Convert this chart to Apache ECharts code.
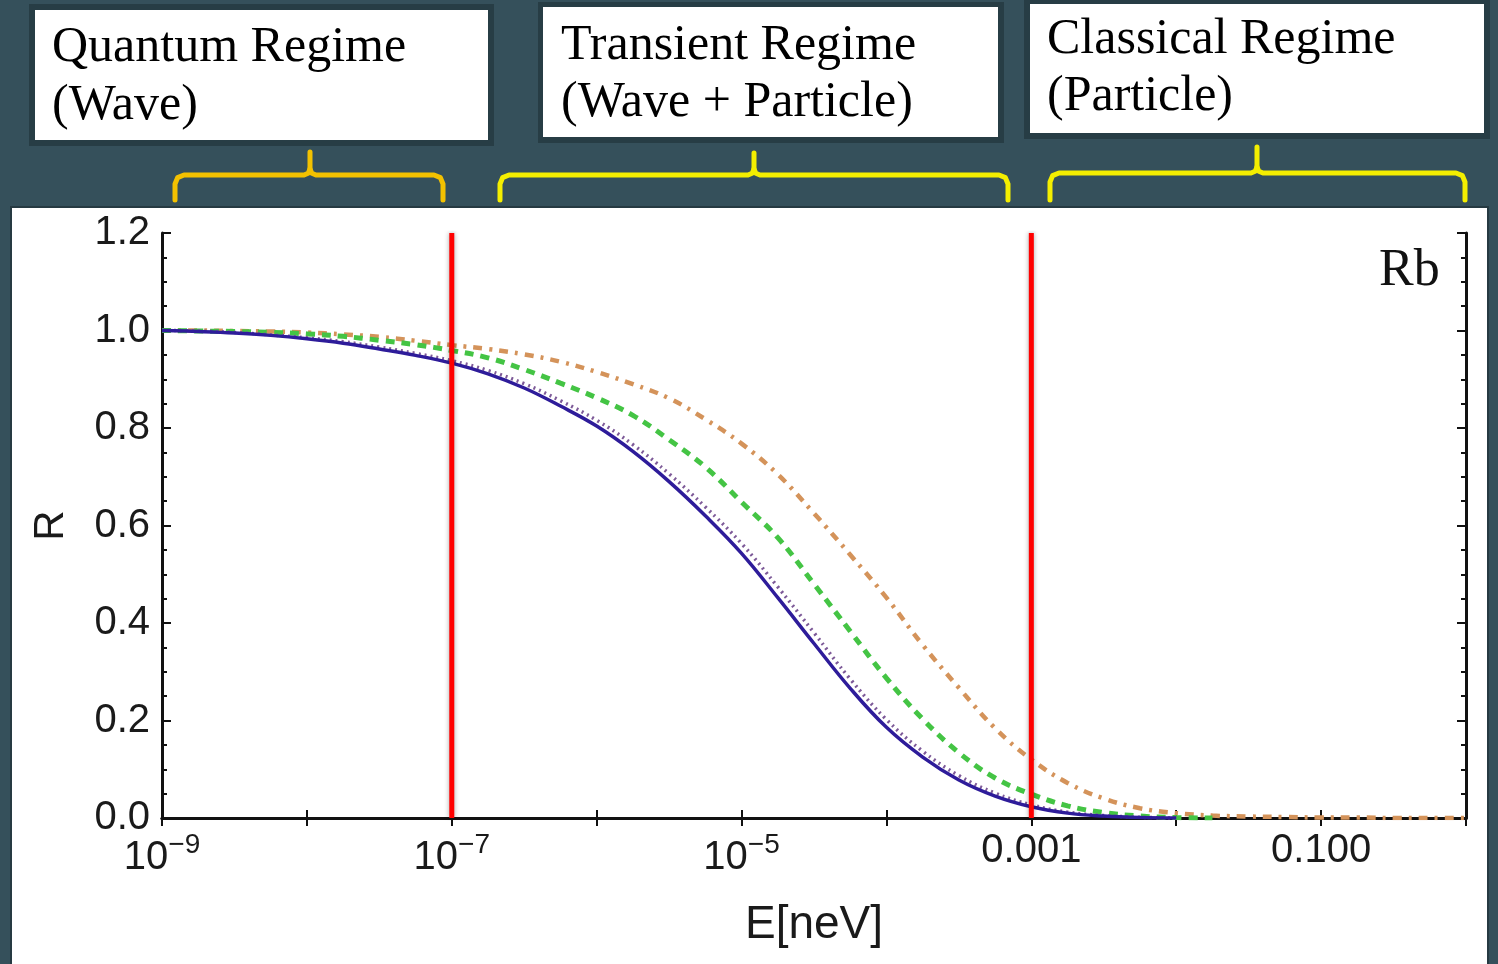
<!DOCTYPE html>
<html lang="en">

<head>
    <meta charset="UTF-8">
    <title>Rb reflection regimes</title>
    <style>
        html, body { margin: 0; padding: 0; background: #35505b; }
        #main { width: 1498px; height: 964px; }
    </style>
</head>

<body>
    <script src="https://cdn.jsdelivr.net/npm/echarts@6/dist/echarts.min.js"></script>
    <div id="main"></div>
    <script>
        // energy samples, as log10(E / neV)
        var logE = [-9, -8.75, -8.5, -8.25, -8, -7.75, -7.5, -7.25, -7, -6.75, -6.5, -6.25,
            -6, -5.75, -5.5, -5.25, -5, -4.75, -4.5, -4.25, -4, -3.75, -3.5, -3.25,
            -3, -2.75, -2.5, -2.25, -2, -1.75, -1.5, -1.25, -1, -0.75, -0.5, -0.25, 0];

        // R
        var rSolid = [1.0, 0.998, 0.995, 0.99, 0.983, 0.974, 0.962, 0.949, 0.933, 0.911, 0.882, 0.845,
            0.804, 0.752, 0.69, 0.62, 0.543, 0.452, 0.358, 0.266, 0.186, 0.125, 0.078, 0.045,
            0.023, 0.01, 0.004, 0.001, 0, null, null, null, null, null, null, null, null];
        var rDotted = [1.0, 0.999, 0.996, 0.991, 0.985, 0.977, 0.966, 0.953, 0.938, 0.918, 0.891, 0.856,
            0.816, 0.766, 0.706, 0.638, 0.563, 0.474, 0.38, 0.285, 0.202, 0.137, 0.087, 0.051,
            0.027, 0.012, 0.005, 0.0015, 0, null, null, null, null, null, null, null, null];
        var rDashed = [1.0, 0.999, 0.998, 0.996, 0.993, 0.988, 0.98, 0.971, 0.959, 0.944, 0.92, 0.892,
            0.862, 0.826, 0.776, 0.72, 0.648, 0.575, 0.48, 0.383, 0.287, 0.203, 0.134, 0.082,
            0.049, 0.025, 0.011, 0.004, 0.001, 0, null, null, null, null, null, null, null];
        var rDashDot = [1.0, 1.0, 0.999, 0.998, 0.996, 0.992, 0.987, 0.979, 0.97, 0.962, 0.951, 0.936,
            0.915, 0.89, 0.861, 0.818, 0.768, 0.705, 0.625, 0.54, 0.452, 0.355, 0.267, 0.184,
            0.12, 0.072, 0.04, 0.02, 0.01, 0.005, 0.003, 0.002, 0.001, 0.001, 0, 0, 0];

        // regime borders (neV), drawn over the full R range
        var regimeBorders = [1e-7, 1e-3];
        var rRange = [0, 1.2];

        // x tick labels, by exponent
        var xTickExp = [-9, -7, -5, -3, -1];
        var xTickText = ['{b|10}{s|−9}', '{b|10}{s|−7}', '{b|10}{s|−5}', '0.001', '0.100'];

        var regimeTitles = [
            ['Quantum Regime', '(Wave)'],
            ['Transient Regime', '(Wave + Particle)'],
            ['Classical Regime', '(Particle)']
        ];

        function pairs(r) {
            return logE.map(function (e, i) {
                return [Math.pow(10, e), r[i]];
            });
        }

        var sans = 'Liberation Sans';
        var serif = 'Liberation Serif';
        var ink = '#1a1a1a';

        // boxes + braces on top (layout only)
        var boxes = [
            { ox: 29, oy: 4, ow: 465, oh: 142, ix: 35, iy: 10, iw: 453, ih: 130, tx: 52, ty: [48, 106] },
            { ox: 538, oy: 2, ow: 466, oh: 141, ix: 543, iy: 7, iw: 455, ih: 130, tx: 561, ty: [46, 103] },
            { ox: 1024, oy: 0, ow: 466, oh: 139, ix: 1030, iy: 4, iw: 454, ih: 129, tx: 1047, ty: [40, 97] }
        ];
        var braces = [
            { x0: 175, x1: 443, s: 310, h: 175, top: 152, color: '#f3c100' },
            { x0: 500, x1: 1008, s: 754, h: 175, top: 153, color: '#f4ee00' },
            { x0: 1050, x1: 1465, s: 1257, h: 173, top: 147, color: '#f4ee00' }
        ];

        var graphic = [{
            type: 'rect', z: -100,
            shape: { x: 11, y: 207, width: 1477, height: 762 },
            style: { fill: '#ffffff', stroke: '#263a42', lineWidth: 2 }
        }];
        boxes.forEach(function (b, i) {
            graphic.push({ type: 'rect', shape: { x: b.ox, y: b.oy, width: b.ow, height: b.oh }, style: { fill: '#273d45' } });
            graphic.push({ type: 'rect', shape: { x: b.ix, y: b.iy, width: b.iw, height: b.ih }, style: { fill: '#ffffff' } });
            regimeTitles[i].forEach(function (t, k) {
                graphic.push({
                    type: 'text', x: b.tx, y: b.ty[k],
                    style: { text: t, font: '50px "' + serif + '"', fill: '#000', verticalAlign: 'middle', align: 'left' }
                });
            });
        });
        braces.forEach(function (b) {
            var r = 9, c = r * 0.29, h = b.h, y2 = 200;
            var braceStyle = { fill: null, stroke: b.color, lineWidth: 5, lineCap: 'round', lineJoin: 'round' };
            // left half of the brace, up into the stem
            graphic.push({
                type: 'polyline',
                shape: {
                    points: [[b.x0, y2], [b.x0, h + r], [b.x0 + c, h + c], [b.x0 + r, h],
                        [b.s - 6, h], [b.s - 1.8, h - 1.8], [b.s, h - 6], [b.s, b.top]]
                },
                style: braceStyle
            });
            // right half
            graphic.push({
                type: 'polyline',
                shape: {
                    points: [[b.s, h - 6], [b.s + 1.8, h - 1.8], [b.s + 6, h],
                        [b.x1 - r, h], [b.x1 - c, h + c], [b.x1, h + r], [b.x1, y2]]
                },
                style: braceStyle
            });
        });
        graphic.push({
            type: 'text', x: 1379, y: 271,
            style: { text: 'Rb', font: '52px "' + serif + '"', fill: '#111', verticalAlign: 'middle', align: 'left' }
        });

        var frameLine = { show: true, lineStyle: { color: '#111', width: 3 } };

        var curveSeries = [
            { name: 'dash-dot', r: rDashDot, line: { color: '#d4935a', width: 4.5, type: [9, 7, 3, 7] } },
            { name: 'dashed', r: rDashed, line: { color: '#44c444', width: 5, type: [9, 7] } },
            { name: 'dotted', r: rDotted, line: { color: '#7d5a98', width: 3.5, type: [2, 4] } },
            { name: 'solid', r: rSolid, line: { color: '#2e1c9a', width: 3.5 } }
        ].map(function (c) {
            return {
                name: c.name,
                type: 'line',
                data: pairs(c.r),
                smooth: 0.4,
                showSymbol: false,
                silent: true,
                lineStyle: c.line
            };
        });

        // red regime border lines
        var borderSeries = regimeBorders.map(function (x) {
            return {
                type: 'line',
                data: rRange.map(function (r) { return [x, r]; }),
                showSymbol: false,
                silent: true,
                z: 5,
                lineStyle: {
                    color: '#ff0000', width: 5,
                    shadowColor: 'rgba(0,0,0,0.35)', shadowBlur: 5
                }
            };
        });

        var option = {
            backgroundColor: '#35505b',
            animation: false,
            graphic: graphic,
            grid: {
                left: 162,
                top: 233,
                right: 32,
                bottom: 146
            },
            xAxis: [
                {
                    type: 'log',
                    logBase: 10,
                    min: 1e-9,
                    max: 1,
                    splitNumber: 9,
                    name: 'E[neV]',
                    nameLocation: 'middle',
                    nameGap: 84,
                    nameTextStyle: { fontFamily: sans, fontSize: 46, color: ink },
                    axisLine: { show: true, onZero: false, lineStyle: { color: '#111', width: 3 } },
                    axisTick: { show: true, inside: true, length: 8, lineStyle: { color: '#111', width: 2 } },
                    splitLine: { show: false },
                    axisLabel: {
                        margin: 13,
                        fontFamily: sans,
                        fontSize: 40,
                        color: ink,
                        formatter: function (v) {
                            var e = Math.round(Math.log10(v));
                            var k = xTickExp.indexOf(e);
                            return k < 0 ? '' : xTickText[k];
                        },
                        rich: {
                            b: { fontFamily: sans, fontSize: 40, color: ink, verticalAlign: 'bottom', padding: [7, 0, 0, 0] },
                            s: { fontFamily: sans, fontSize: 28, color: ink, verticalAlign: 'top' }
                        }
                    }
                },
                {
                    type: 'log',
                    logBase: 10,
                    min: 1e-9,
                    max: 1,
                    splitNumber: 9,
                    position: 'top',
                    axisLine: frameLine,
                    axisTick: { show: true, inside: true, length: 8, lineStyle: { color: '#111', width: 2 } },
                    axisLabel: { show: false },
                    splitLine: { show: false }
                }
            ],
            yAxis: [
                {
                    type: 'value',
                    min: rRange[0],
                    max: rRange[1],
                    interval: 0.2,
                    name: 'R',
                    nameLocation: 'middle',
                    nameGap: 90,
                    nameRotate: 90,
                    nameTextStyle: { fontFamily: sans, fontSize: 42, color: ink },
                    axisLine: frameLine,
                    axisTick: { show: true, inside: true, length: 9, lineStyle: { color: '#111', width: 2 } },
                    minorTick: { show: true, splitNumber: 4, length: 5, lineStyle: { color: '#111', width: 2 } },
                    splitLine: { show: false },
                    axisLabel: {
                        margin: 12,
                        fontFamily: sans,
                        fontSize: 40,
                        color: ink,
                        formatter: function (v) { return v.toFixed(1); }
                    }
                },
                {
                    type: 'value',
                    min: rRange[0],
                    max: rRange[1],
                    interval: 0.2,
                    position: 'right',
                    axisLine: frameLine,
                    axisTick: { show: true, inside: true, length: 9, lineStyle: { color: '#111', width: 2 } },
                    minorTick: { show: true, splitNumber: 4, length: 5, lineStyle: { color: '#111', width: 2 } },
                    splitLine: { show: false },
                    axisLabel: { show: false }
                }
            ],
            series: curveSeries.concat(borderSeries)
        };

        var mCharts = echarts.init(document.getElementById('main'));
        mCharts.setOption(option);
    </script>
</body>

</html>
